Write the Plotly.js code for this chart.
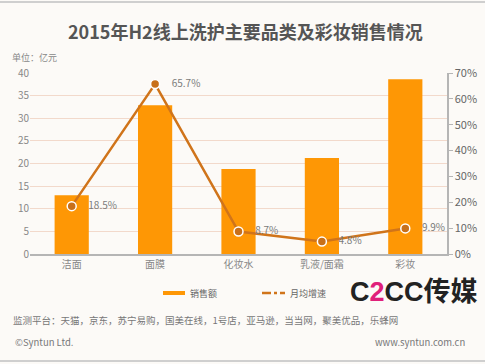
<!DOCTYPE html>
<html><head><meta charset="utf-8">
<script src="https://cdn.plot.ly/plotly-3.0.1.min.js"></script>
<style>html,body{margin:0;padding:0;background:#fcfaf7;}#c{width:485px;height:364px;}</style>
</head><body><div id="c"></div>
<script>
const categories = ['洁面','面膜','化妆水','乳液/面霜','彩妆'];
const sales = [13.0, 32.9, 18.8, 21.2, 38.6];
const growth = [18.5, 65.7, 8.7, 4.8, 9.9];
const growthLabels = ['18.5%','65.7%','8.7%','4.8%','9.9%'];
const leftTicks = [0,5,10,15,20,25,30,35,40];
const rightTicks = [0,10,20,30,40,50,60,70];

const W=485,H=364,L=30,R=38,T=73,B=110;
const pw=W-L-R, ph=H-T-B;
const px=x=>(x-L)/pw, py=y=>(H-B-y)/ph;

const font="'Microsoft YaHei','Noto Sans CJK SC',sans-serif";
const bars={type:'bar',x:categories,y:sales,marker:{color:'#fe9705'},width:0.41,hoverinfo:'none'};
const line={type:'scatter',mode:'lines+markers+text',x:categories,y:growth,yaxis:'y2',
  line:{color:'#d0741a',width:2.5},
  marker:{color:'#c8701a',size:9,line:{color:'#ffffff',width:1.5}},
  text:growthLabels.map(s=>'\u2002\u2002'+s),textposition:'middle right',
  textfont:{family:font,size:10,color:'#7a7a7a'},cliponaxis:false};

const shapes=[
 {type:'line',xref:'paper',yref:'paper',x0:px(0),x1:px(485),y0:py(2),y1:py(2),line:{color:'#cfcfcf',width:2}},
 {type:'line',xref:'paper',yref:'paper',x0:px(0),x1:px(485),y0:py(361),y1:py(361),line:{color:'#cfcfcf',width:2}},
 {type:'line',xref:'paper',yref:'paper',x0:px(163),x1:px(185),y0:py(293),y1:py(293),line:{color:'#fe9705',width:4}},
 {type:'line',xref:'paper',yref:'paper',x0:px(262),x1:px(285),y0:py(293),y1:py(293),line:{color:'#d0741a',width:2.5,dash:'dashdot'}}
];
const ann=(t,x,y,o)=>Object.assign({text:t,xref:'paper',yref:'paper',x:px(x),y:py(y),showarrow:false,xanchor:'left',yanchor:'middle',font:{family:font,size:10,color:'#777'}},o||{});
const annotations=[
 ann('<b>2015年H2线上洗护主要品类及彩妆销售情况</b>',245,31,{xanchor:'center',font:{family:font,size:18,color:'#555'}}),
 ann('单位：亿元',10,57,{font:{family:font,size:9,color:'#888'}}),
 ann('销售额',188,293,{font:{family:font,size:9,color:'#666'}}),
 ann('月均增速',288,293,{font:{family:font,size:9,color:'#666'}}),
 ann('<b>C<span style="color:#e0207a">2</span>CC传媒</b>',348,292,{font:{family:"Arial,'Liberation Sans','Noto Sans CJK SC',sans-serif",size:27,color:'#222'}}),
 ann('监测平台：天猫，京东，苏宁易购，国美在线，1号店，亚马逊，当当网，聚美优品，乐蜂网',11,320,{font:{family:font,size:9.5,color:'#777'}}),
 ann('©Syntun Ltd.',13,342,{font:{family:font,size:9.5,color:'#777'}}),
 ann('www.syntun.com.cn',467,342,{xanchor:'right',font:{family:font,size:9.5,color:'#777'}})
];

const layout={width:W,height:H,margin:{l:L,r:R,t:T,b:B},paper_bgcolor:'#fcfaf7',plot_bgcolor:'rgba(0,0,0,0)',
 showlegend:false,bargap:0.59,
 xaxis:{showgrid:false,showline:true,linecolor:'#b5b5b5',linewidth:1.5,ticks:'',tickfont:{family:font,size:10,color:'#888'},fixedrange:true},
 yaxis:{range:[0,40],tickvals:leftTicks,showline:false,gridcolor:'#f2d9cb',gridwidth:1,zeroline:false,tickfont:{family:font,size:10,color:'#888'},ticks:'',fixedrange:true},
 yaxis2:{range:[0,70],tickvals:rightTicks,ticktext:rightTicks.map(v=>v+'%'),overlaying:'y',side:'right',showgrid:false,showline:true,linecolor:'#b5b5b5',linewidth:1.5,ticks:'outside',ticklen:4,tickcolor:'#b5b5b5',zeroline:false,tickfont:{family:font,size:11,color:'#666'},fixedrange:true},
 shapes:shapes,annotations:annotations};
Plotly.newPlot('c',[bars,line],layout,{displayModeBar:false,staticPlot:true});
</script></body></html>
